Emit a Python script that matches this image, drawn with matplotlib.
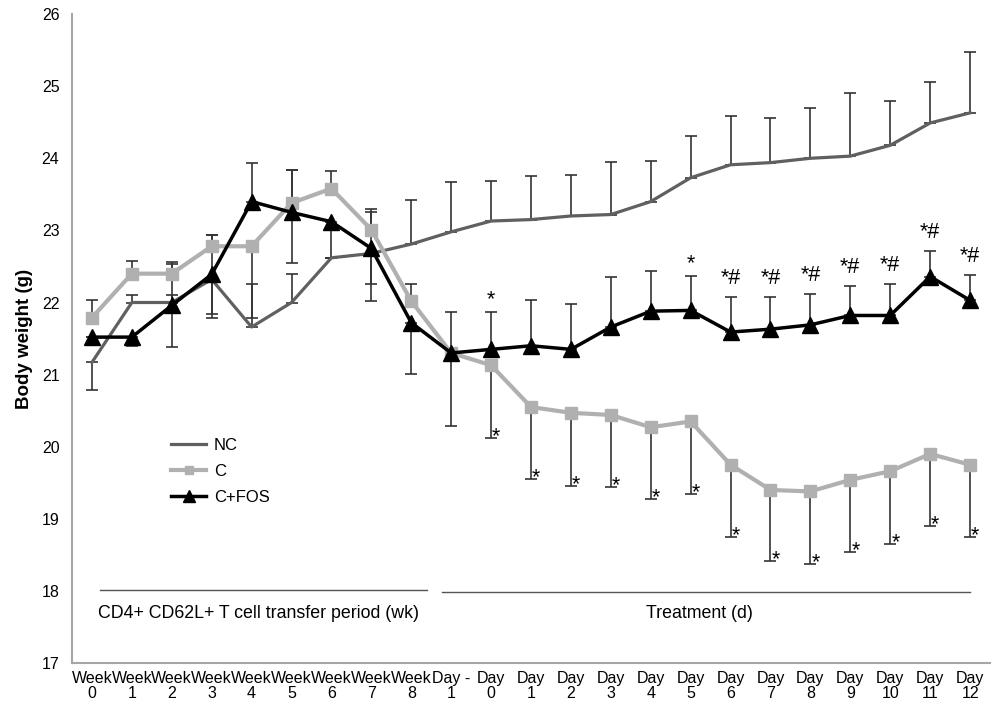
import matplotlib
matplotlib.use("Agg")
import matplotlib.pyplot as plt
from matplotlib.lines import Line2D
import numpy as np

plt.rcParams['font.family'] = ['Liberation Sans', 'DejaVu Sans']

categories = ["Week\n0", "Week\n1", "Week\n2", "Week\n3", "Week\n4", "Week\n5", "Week\n6",
              "Week\n7", "Week\n8", "Day -\n1", "Day\n0", "Day\n1", "Day\n2", "Day\n3",
              "Day\n4", "Day\n5", "Day\n6", "Day\n7", "Day\n8", "Day\n9", "Day\n10",
              "Day\n11", "Day\n12"]

nc = [21.17, 22.0, 22.0, 22.32, 21.66, 22.0, 22.62, 22.68, 22.81, 22.98, 23.13, 23.15, 23.20,
      23.22, 23.40, 23.73, 23.91, 23.94, 24.0, 24.03, 24.18, 24.49, 24.63]
nc_up = [0, 0.1, 0.1, 0, 0.6, 0.39, 0, 0, 0.61, 0.69, 0.55, 0.61, 0.57, 0.73, 0.56, 0.58,
         0.68, 0.62, 0.70, 0.87, 0.61, 0.57, 0.84]
nc_dn = [0.38, 0, 0, 0.53, 0, 0, 0, 0.66, 0, 0, 0, 0, 0, 0, 0, 0, 0, 0, 0, 0, 0, 0, 0]

c = [21.79, 22.40, 22.40, 22.78, 22.78, 23.38, 23.58, 23.01, 22.02, 21.30, 21.13, 20.55, 20.47,
     20.44, 20.27, 20.35, 19.75, 19.40, 19.38, 19.54, 19.66, 19.90, 19.75]
c_up = [0.24, 0.17, 0.16, 0.15, 0, 0.46, 0.24, 0.29, 0.23, 0, 0, 0, 0, 0, 0, 0, 0, 0, 0, 0, 0, 0, 0]
c_dn = [0, 0, 0, 0, 1.0, 0, 0, 0, 0, 1.01, 1.01, 1.0, 1.01, 1.0, 1.0, 1.0, 1.0, 0.99, 1.0,
        1.0, 1.01, 1.0, 1.0]

fos = [21.52, 21.52, 21.96, 22.39, 23.40, 23.25, 23.12, 22.75, 21.72, 21.30, 21.35, 21.40, 21.35,
       21.66, 21.88, 21.89, 21.59, 21.63, 21.69, 21.82, 21.82, 22.36, 22.03]
fos_up = [0, 0, 0.58, 0.55, 0.53, 0.59, 0, 0.5, 0, 0.57, 0.52, 0.63, 0.63, 0.70, 0.55, 0.48,
          0.48, 0.45, 0.43, 0.41, 0.43, 0.35, 0.35]
fos_dn = [0, 0.13, 0.58, 0.55, 0, 0.7, 0.5, 0.5, 0.71, 0, 0, 0, 0, 0, 0, 0, 0, 0, 0, 0, 0, 0, 0]

upper_marks = {10: "*", 15: "*", 16: "*#", 17: "*#", 18: "*#", 19: "*#", 20: "*#", 21: "*#", 22: "*#"}
lower_marks = list(range(10, 23))

period_labels = ["CD4+ CD62L+ T cell transfer period (wk)", "Treatment (d)"]

fig = plt.figure(figsize=(9.93, 7.04), dpi=100)
ax = fig.add_axes([0.0725, 0.0582, 0.9245, 0.9218])
x = np.arange(len(categories))

ekw = dict(ecolor='#333333', elinewidth=1.2, capsize=4, capthick=1.2, fmt='none', zorder=2)
ax.errorbar(x, nc, yerr=[nc_dn, nc_up], **ekw)
ax.errorbar(x, c, yerr=[c_dn, c_up], **ekw)
ax.errorbar(x, fos, yerr=[fos_dn, fos_up], **ekw)

ax.plot(x, nc, color='#606060', lw=2.3, zorder=3)
ax.plot(x, c, color='#b0b0b0', lw=3, marker='s', ms=9, mec='#b0b0b0', zorder=4)
ax.plot(x, fos, color='black', lw=2.5, marker='^', ms=12, zorder=5)

for i, s in upper_marks.items():
    off = 0.09 if s == "*" else 0.18
    ax.text(i, fos[i] + fos_up[i] + off, s, ha='center', va='baseline', fontsize=15.5)
for i in lower_marks:
    ax.text(i + 0.13, c[i] - c_dn[i] - 0.06, "*", ha='center', va='baseline', fontsize=15.5)

ax.plot([0.2, 8.4], [18.01, 18.01], color='#555555', lw=1)
ax.plot([8.78, 22.0], [17.99, 17.99], color='#555555', lw=1)
ax.text(4.17, 17.68, period_labels[0], ha='center', va='center', fontsize=12.8)
ax.text(15.22, 17.68, period_labels[1], ha='center', va='center', fontsize=12.8)

ax.set_xlim(-0.5, 22.5)
ax.set_ylim(17, 26)
ax.set_yticks(np.arange(17, 27, 1))
ax.set_xticks(x)
ax.set_xticklabels(categories, fontsize=11.5, linespacing=1.0)
ax.tick_params(axis='both', length=0, labelsize=11.5)
ax.tick_params(axis='x', pad=6)
ax.tick_params(axis='y', pad=9)
for sp in ['top', 'right']:
    ax.spines[sp].set_visible(False)
for sp in ['left', 'bottom']:
    ax.spines[sp].set_color('#a6a6a6')
    ax.spines[sp].set_linewidth(1.5)
ax.set_ylabel("Body weight (g)", fontsize=13.5, fontweight='bold')
ax.yaxis.set_label_coords(-0.0425, 0.5)

handles = [Line2D([], [], color='#606060', lw=2.3),
           Line2D([], [], color='#b0b0b0', lw=3, marker='s', ms=6, mec='#b0b0b0'),
           Line2D([], [], color='black', lw=2.5, marker='^', ms=8)]
ax.legend(handles, ["NC", "C", "C+FOS"], loc='upper left', bbox_to_anchor=(0.092, 0.37),
          frameon=False, fontsize=12, handlelength=2.1, labelspacing=0.65, handletextpad=0.45)

fig.savefig("out.png", dpi=100)
